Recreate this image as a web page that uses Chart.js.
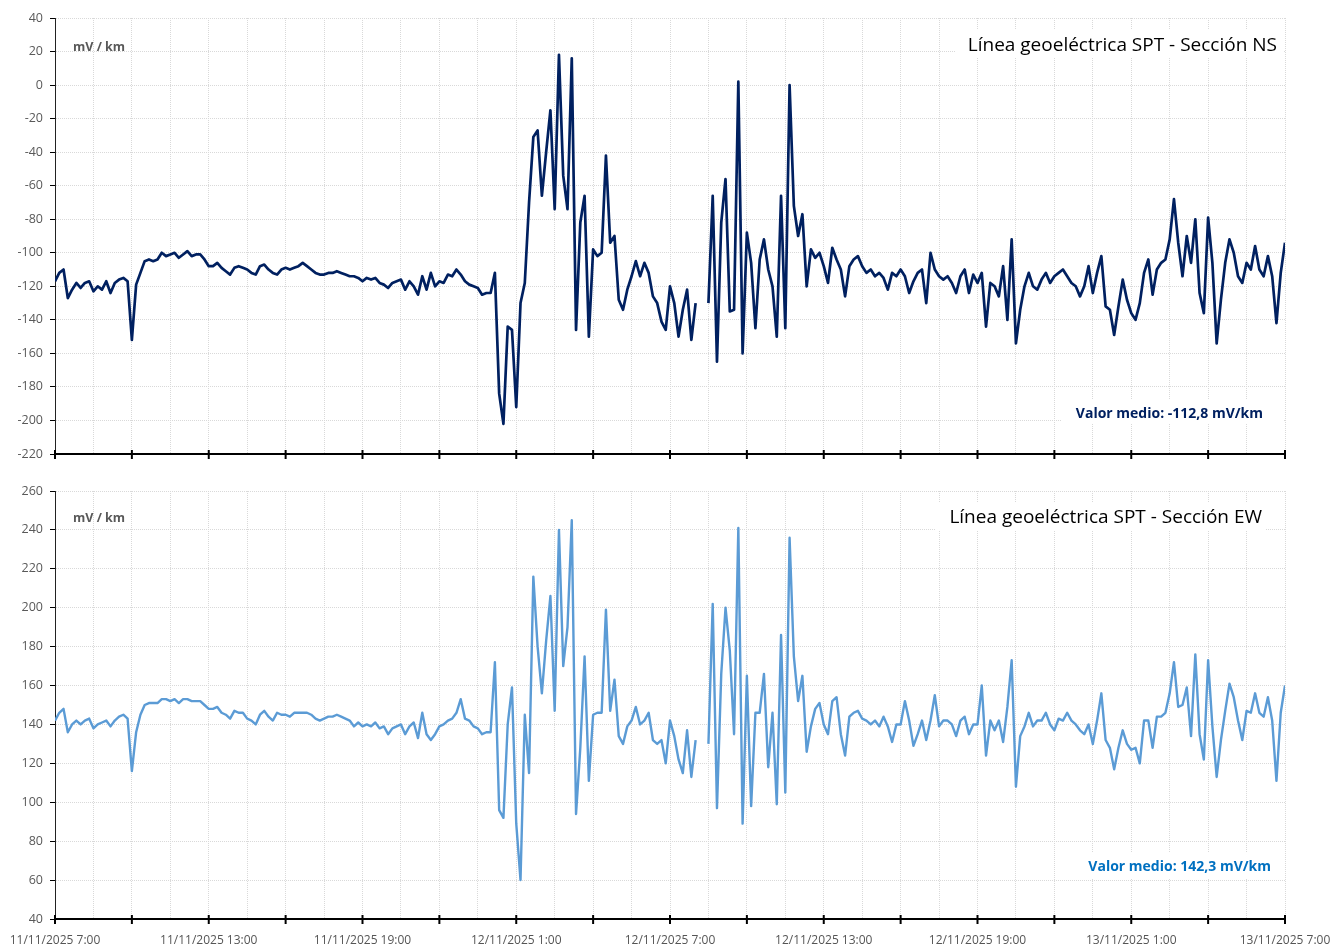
<!DOCTYPE html>
<html lang="es">
<head>
<meta charset="utf-8">
<title>Línea geoeléctrica SPT</title>
<script src="https://cdn.jsdelivr.net/npm/chart.js@4.4.1/dist/chart.umd.min.js"></script>
<style>
  html, body { margin: 0; padding: 0; background: #fff; }
  #wrap { position: relative; width: 1331px; height: 947px; overflow: hidden; }
  canvas { position: absolute; left: 0; }
  #chartNS { top: 0; }
  #chartEW { top: 473px; }
</style>
</head>
<body>
<div id="wrap">
  <canvas id="chartNS" width="1331" height="470"></canvas>
  <canvas id="chartEW" width="1331" height="474"></canvas>
</div>
<script>
// one reading every 10 minutes, from 11/11/2025 7:00 to 13/11/2025 7:00
const stepMinutes = 10;

const xTickLabels = [
    '11/11/2025 7:00', '11/11/2025 13:00', '11/11/2025 19:00',
    '12/11/2025 1:00', '12/11/2025 7:00', '12/11/2025 13:00',
    '12/11/2025 19:00', '13/11/2025 1:00', '13/11/2025 7:00'
];

// Sección NS (mV/km), one row per hour
const nsValues = [
    -117, -112, -110, -127, -122, -118,
    -121, -118, -117, -123, -120, -122,
    -117, -124, -118, -116, -115, -117,
    -152, -119, -112, -105, -104, -105,
    -104, -100, -102, -101, -100, -103,
    -101, -99, -102, -101, -101, -104,
    -108, -108, -106, -109, -111, -113,
    -109, -108, -109, -110, -112, -113,
    -108, -107, -110, -112, -113, -110,
    -109, -110, -109, -108, -106, -108,
    -110, -112, -113, -113, -112, -112,
    -111, -112, -113, -114, -114, -115,
    -117, -115, -116, -115, -118, -119,
    -121, -118, -117, -116, -122, -117,
    -120, -125, -114, -122, -112, -120,
    -117, -118, -113, -114, -110, -113,
    -117, -119, -120, -121, -125, -124,
    -124, -112, -184, -202, -144, -146,
    -192, -130, -118, -70, -31, -27,
    -66, -40, -15, -74, 18, -54,
    -74, 16, -146, -82, -66, -150,
    -98, -102, -100, -42, -94, -90,
    -128, -134, -122, -114, -105, -114,
    -106, -112, -126, -130, -141, -146,
    -120, -130, -150, -134, -122, -152,
    -130, null, null, -130, -66, -165,
    -82, -56, -135, -134, 2, -160,
    -88, -106, -145, -104, -92, -110,
    -120, -150, -66, -145, 0, -72,
    -90, -77, -120, -98, -103, -100,
    -108, -118, -97, -104, -110, -126,
    -108, -104, -102, -108, -112, -110,
    -114, -112, -115, -122, -112, -114,
    -110, -114, -124, -117, -112, -110,
    -130, -100, -110, -114, -116, -114,
    -118, -124, -114, -110, -124, -113,
    -118, -112, -144, -118, -120, -126,
    -108, -140, -92, -154, -134, -120,
    -112, -120, -122, -116, -112, -118,
    -114, -112, -110, -114, -118, -120,
    -126, -120, -108, -124, -112, -102,
    -132, -134, -149, -132, -116, -128,
    -136, -140, -130, -112, -104, -125,
    -110, -106, -104, -92, -68, -94,
    -114, -90, -106, -80, -124, -136,
    -79, -106, -154, -128, -106, -92,
    -100, -114, -118, -106, -110, -96,
    -110, -114, -102, -114, -142, -112,
    -94
];

// Sección EW (mV/km), one row per hour
const ewValues = [
    142, 146, 148, 136, 140, 142,
    140, 142, 143, 138, 140, 141,
    142, 139, 142, 144, 145, 143,
    116, 136, 145, 150, 151, 151,
    151, 153, 153, 152, 153, 151,
    153, 153, 152, 152, 152, 150,
    148, 148, 149, 146, 145, 143,
    147, 146, 146, 143, 142, 140,
    145, 147, 144, 142, 146, 145,
    145, 144, 146, 146, 146, 146,
    145, 143, 142, 143, 144, 144,
    145, 144, 143, 142, 139, 141,
    139, 140, 139, 141, 138, 139,
    135, 138, 139, 140, 135, 139,
    141, 133, 146, 135, 132, 135,
    139, 140, 142, 143, 146, 153,
    143, 142, 139, 138, 135, 136,
    136, 172, 96, 92, 140, 159,
    89, 60, 145, 115, 216, 180,
    156, 183, 206, 147, 240, 170,
    190, 245, 94, 128, 175, 111,
    145, 146, 146, 199, 147, 163,
    134, 130, 139, 142, 149, 140,
    142, 146, 132, 130, 132, 120,
    142, 134, 122, 115, 137, 113,
    132, null, null, 130, 202, 97,
    166, 200, 178, 135, 241, 89,
    165, 98, 146, 146, 166, 118,
    146, 99, 186, 105, 236, 175,
    152, 165, 126, 139, 148, 151,
    140, 135, 152, 154, 135, 124,
    144, 146, 147, 143, 142, 140,
    142, 139, 144, 139, 131, 140,
    140, 152, 142, 129, 135, 142,
    132, 142, 155, 139, 142, 142,
    140, 134, 142, 144, 135, 140,
    140, 160, 124, 142, 137, 142,
    131, 149, 173, 108, 134, 139,
    146, 139, 142, 142, 146, 140,
    137, 143, 142, 146, 142, 140,
    137, 135, 140, 130, 142, 156,
    132, 128, 117, 128, 137, 130,
    127, 128, 120, 142, 142, 128,
    144, 144, 146, 156, 172, 149,
    150, 159, 134, 176, 135, 122,
    173, 139, 113, 132, 147, 161,
    154, 142, 132, 147, 146, 156,
    146, 144, 154, 142, 111, 146,
    160
];

const totalHours = 48;
const gridHours = [];
for (let h = 0; h <= totalHours; h += 1.5) gridHours.push(h);
const tickHours = gridHours.filter(h => h % 3 === 0);

const FONT = '"Open Sans", "Noto Sans", sans-serif';
const GRID_COLOR = '#d9d9d9';

const crossTicks = {
    id: 'crossTicks',
    afterDraw(chart) {
        const ctx = chart.ctx;
        const x = chart.scales.x;
        const bottom = chart.chartArea.bottom;
        ctx.save();
        ctx.strokeStyle = '#000';
        ctx.lineWidth = 2;
        tickHours.forEach(h => {
            const px = x.getPixelForValue(h);
            ctx.beginPath();
            ctx.moveTo(px, bottom - 4);
            ctx.lineTo(px, bottom + 5);
            ctx.stroke();
        });
        ctx.restore();
    }
};

function panelLabels(cfg) {
    return {
        id: 'panelLabels',
        beforeDatasetsDraw(chart) {
            const ctx = chart.ctx;
            ctx.save();
            ctx.fillStyle = '#fff';
            cfg.boxes.forEach(b => ctx.fillRect(b[0], b[1], b[2], b[3]));

            ctx.textBaseline = 'alphabetic';
            ctx.textAlign = 'right';
            ctx.fillStyle = '#000';
            ctx.font = '19px ' + FONT;
            ctx.fillText(cfg.title, cfg.titleX, cfg.titleY);

            ctx.textAlign = 'left';
            ctx.fillStyle = '#595959';
            ctx.font = 'bold 12.5px ' + FONT;
            ctx.fillText('mV / km', 73, cfg.unitY);

            ctx.textAlign = 'right';
            ctx.fillStyle = cfg.meanColor;
            ctx.font = 'bold 14px ' + FONT;
            ctx.fillText(cfg.meanText, cfg.meanX, cfg.meanY);
            ctx.restore();
        }
    };
}

function makePanel(canvasId, values, opts) {
    const points = values.map((v, i) => ({ x: i * stepMinutes / 60, y: v }));
    const ctx = document.getElementById(canvasId).getContext('2d');
    return new Chart(ctx, {
        type: 'line',
        data: {
            datasets: [{
                data: points,
                borderColor: opts.color,
                borderWidth: opts.lineWidth,
                pointRadius: 0,
                tension: 0,
                spanGaps: false,
                borderJoinStyle: 'round'
            }]
        },
        options: {
            responsive: false,
            animation: false,
            events: [],
            layout: { padding: { top: 18, right: 46, left: 0, bottom: 0 } },
            plugins: {
                legend: { display: false },
                tooltip: { enabled: false },
                title: { display: false }
            },
            scales: {
                x: {
                    type: 'linear',
                    min: 0,
                    max: totalHours,
                    afterBuildTicks: s => { s.ticks = gridHours.map(h => ({ value: h })); },
                    afterFit: s => { s.height = opts.xHeight; s.paddingLeft = 0; s.paddingRight = 0; },
                    grid: { color: GRID_COLOR, drawTicks: false },
                    border: { color: '#000', width: 2, dash: [1, 1] },
                    ticks: {
                        display: opts.showXLabels,
                        autoSkip: false,
                        maxRotation: 0,
                        minRotation: 0,
                        padding: 14,
                        color: '#555',
                        font: { size: 12, family: FONT },
                        callback: v => (v % 6 === 0 ? xTickLabels[v / 6] : '')
                    }
                },
                y: {
                    min: opts.yMin,
                    max: opts.yMax,
                    afterFit: s => { s.width = 55; },
                    grid: { color: GRID_COLOR, tickColor: '#000', tickLength: 5, tickWidth: 1 },
                    border: { color: '#222', width: 1, dash: [1, 1] },
                    ticks: {
                        stepSize: 20,
                        padding: 7,
                        color: '#595959',
                        font: { size: 12.5, family: FONT }
                    }
                }
            }
        },
        plugins: [panelLabels(opts.labels), crossTicks]
    });
}

makePanel('chartNS', nsValues, {
    color: '#002060',
    lineWidth: 2.7,
    yMin: -220,
    yMax: 40,
    xHeight: 16,
    showXLabels: false,
    labels: {
        title: 'Línea geoeléctrica SPT - Sección NS',
        titleX: 1277, titleY: 51,
        unitY: 51,
        meanText: 'Valor medio: -112,8 mV/km',
        meanColor: '#002060',
        meanX: 1263, meanY: 418,
        boxes: [[955, 30, 328, 28], [1062, 399, 222, 25]]
    }
});

makePanel('chartEW', ewValues, {
    color: '#5b9bd5',
    lineWidth: 2.4,
    yMin: 40,
    yMax: 260,
    xHeight: 28,
    showXLabels: true,
    labels: {
        title: 'Línea geoeléctrica SPT - Sección EW',
        titleX: 1262, titleY: 50,
        unitY: 49,
        meanText: 'Valor medio: 142,3 mV/km',
        meanColor: '#0070c0',
        meanX: 1271, meanY: 398,
        boxes: [[935, 29, 331, 29], [1077, 380, 207, 26]]
    }
});
</script>
</body>
</html>
